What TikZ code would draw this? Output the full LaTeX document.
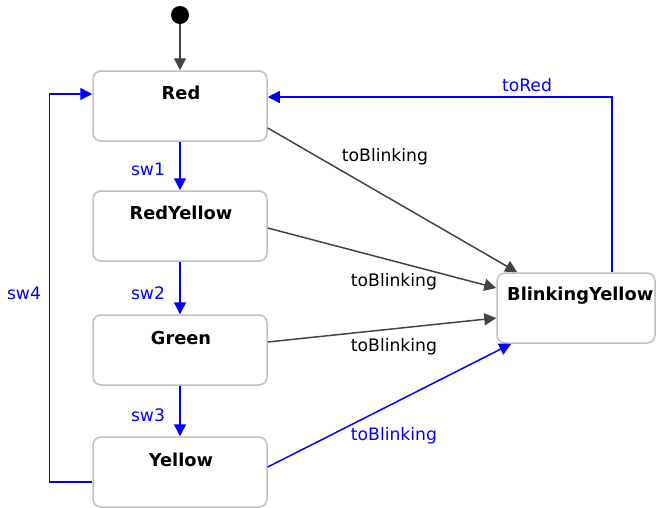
\documentclass[tikz,border=0pt]{standalone}
\usepackage{fontspec}
\setmainfont{DejaVu Sans}
\usetikzlibrary{arrows.meta,calc}
\definecolor{edgegray}{HTML}{444444}
\definecolor{boxgray}{HTML}{C0C0C0}
\definecolor{pureblue}{RGB}{0,0,255}
\tikzset{
  statebox/.style={draw=boxgray, line width=1.5pt, fill=white, rounded corners=8pt,
    minimum width=174pt, minimum height=70pt, inner sep=0pt},
  statetitle/.style={font=\fontsize{17.8}{20}\selectfont\bfseries, inner sep=0pt, anchor=center},
  tr/.style={line width=1.5pt, -{Triangle[length=12pt,width=12pt]}},
  grayedge/.style={tr, draw=edgegray},
  blueedge/.style={tr, draw=pureblue},
  lbl/.style={font=\fontsize{17.2}{20}\selectfont, inner sep=0pt, anchor=center},
  bluelbl/.style={lbl, text=pureblue},
}
\begin{document}
\begin{tikzpicture}[x=1pt,y=-1pt]
\useasboundingbox (0,0) rectangle (656,507);
\clip (0,0) rectangle (656,507);
% states
\node[fill=black, circle, minimum size=18pt, inner sep=0pt] (init) at (180,15) {};
\node[statebox] (red) at (180,106) {};
\node[statebox] (ry) at (180,226) {};
\node[statebox] (green) at (180,350) {};
\node[statebox] (yellow) at (180,472) {};
\node[statebox, minimum width=158pt] (blink) at (576,308) {};
\node[statetitle] (tred) at (181,93) {Red};
\node[statetitle] (try) at (181,213) {RedYellow};
\node[statetitle] (tgreen) at (181,338) {Green};
\node[statetitle] (tyellow) at (181,460) {Yellow};
\node[statetitle, anchor=west] (tblink) at (507,296) {BlinkingYellow};
% connectors
\draw[grayedge] (init.south) -- (red.north);
\draw[blueedge] (red.south) -- (ry.north);
\draw[blueedge] (ry.south) -- (green.north);
\draw[blueedge] (green.south) -- (yellow.north);
\draw[blueedge] ($(yellow.west)+(0,10)$) -- ++(-43,0) |- ($(red.west)+(0,-12)$);
\draw[blueedge] ($(blink.north)+(36,0)$) |- ($(red.east)+(0,-9)$);
\draw[grayedge] ($(red.east)+(0,22)$) -- ($(blink.north west)+(21,0)$);
\draw[grayedge] ($(ry.east)+(0,2)$) -- ($(blink.west)+(0,-20)$);
\draw[grayedge] ($(green.east)+(0,-8)$) -- ($(blink.west)+(0,10)$);
\draw[blueedge] ($(yellow.east)+(0,-5)$) -- ($(blink.south west)+(15,0)$);
% labels
\node[bluelbl] (l1) at (148,169) {sw1};
\node[bluelbl] (l2) at (148,293) {sw2};
\node[bluelbl] (l3) at (148,415) {sw3};
\node[bluelbl] (l4) at (24,293) {sw4};
\node[bluelbl] (l5) at (527,85) {toRed};
\node[lbl] (l6) at (385,157) {toBlinking};
\node[lbl] (l7) at (394,282) {toBlinking};
\node[lbl] (l8) at (394,347) {toBlinking};
\node[bluelbl] (l9) at (394,436) {toBlinking};
\end{tikzpicture}
\end{document}
